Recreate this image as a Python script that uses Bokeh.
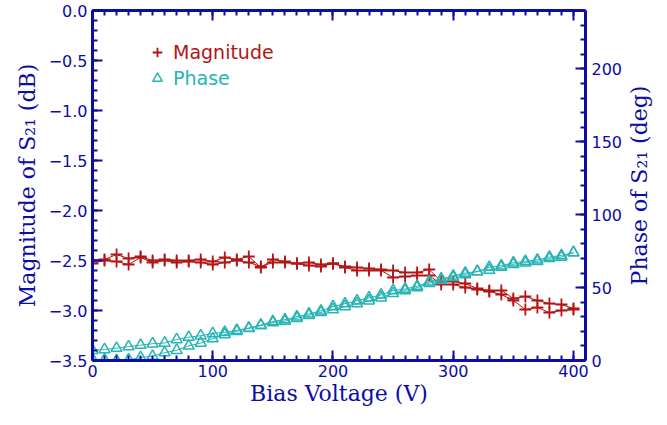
import math
from bokeh.plotting import figure
from bokeh.layouts import row
from bokeh.models import (Range1d, LinearAxis, SingleIntervalTicker, FixedTicker, CustomJSTickFormatter,
                          Legend, LegendItem, ColumnDataSource)
from bokeh.embed import file_html
from bokeh.resources import INLINE

volts = [0, 10, 20, 30, 40, 50, 60, 70, 80, 90, 100, 110, 120, 130, 140, 150, 160, 170, 180, 190,
         200, 210, 220, 230, 240, 250, 260, 270, 280, 290, 300, 310, 320, 330, 340, 350, 360, 370,
         380, 390, 400]
mag_up = [-2.50, -2.49, -2.44, -2.48, -2.46, -2.50, -2.49, -2.50, -2.50, -2.49, -2.51, -2.47, -2.49,
          -2.46, -2.57, -2.49, -2.51, -2.53, -2.52, -2.54, -2.53, -2.56, -2.57, -2.58, -2.59, -2.60,
          -2.62, -2.62, -2.59, -2.71, -2.71, -2.73, -2.78, -2.80, -2.80, -2.88, -2.86, -2.90, -2.93,
          -2.94, -2.98]
mag_down = [-2.53, -2.50, -2.51, -2.54, -2.47, -2.52, -2.50, -2.52, -2.51, -2.52, -2.54, -2.52, -2.50,
            -2.52, -2.56, -2.52, -2.52, -2.53, -2.55, -2.56, -2.53, -2.57, -2.60, -2.60, -2.60, -2.67,
            -2.66, -2.65, -2.65, -2.74, -2.74, -2.77, -2.79, -2.81, -2.84, -2.90, -2.99, -2.97, -3.02,
            -3.00, -2.99]
phase_up = [7, 7.5, 8.5, 9.5, 10.5, 11.5, 12, 14.4, 16, 17, 18.5, 19.4, 20.7, 22.3, 24.3, 26.8, 28, 30,
            32, 34, 37, 39, 41, 43, 45, 48, 49, 51, 54, 56, 58, 60, 61, 64, 65, 67, 68, 69, 71, 72, 74]
phase_down = [1, 0.5, 0, 0.5, 2, 3, 5.4, 7, 10, 12, 15, 17.8, 20, 22, 24, 26, 27, 29, 31, 33, 35, 37,
              39, 41, 43, 46, 48, 50, 53, 55, 57, 59, 61, 62, 64, 66, 67, 68, 70, 71, 74]

x_title = "Bias Voltage (V)"
y_title = "Magnitude of S\u2082\u2081 (dB)"
y2_title = "Phase of S\u2082\u2081 (deg)"
mag_label = "Magnitude"
phase_label = "Phase"

AXIS = "#0c0ca6"
RED = "#b41414"
TEAL = "#26b4b4"
TITLE_FONT = "DejaVu Serif"
TITLE_SIZE = "22px"
TOP = 10
BOTTOM = 49

p = figure(width=625, height=409, output_backend="svg", toolbar_location=None,
           x_range=Range1d(0, 410), y_range=Range1d(-3.5, 0),
           min_border_left=92, min_border_right=0, min_border_top=TOP, min_border_bottom=0)
p.extra_y_ranges = {"phase": Range1d(0, 240)}
p.grid.visible = False
p.outline_line_color = None
p.background_fill_color = "white"
p.border_fill_color = "white"

def style(ax):
    ax.axis_line_color = AXIS
    ax.axis_line_width = 3
    ax.major_tick_line_color = AXIS
    ax.minor_tick_line_color = AXIS
    ax.major_tick_line_width = 2
    ax.minor_tick_line_width = 2
    ax.major_tick_in = 10
    ax.major_tick_out = 0
    ax.minor_tick_in = 5
    ax.minor_tick_out = 0
    ax.major_label_text_color = AXIS
    ax.major_label_text_font = "DejaVu Sans"
    ax.major_label_text_font_size = "16px"
    ax.major_label_standoff = 5
    ax.axis_label_text_color = AXIS
    ax.axis_label_text_font = TITLE_FONT
    ax.axis_label_text_font_size = TITLE_SIZE
    ax.axis_label_text_font_style = "normal"

xax = p.xaxis[0]
xax.ticker = SingleIntervalTicker(interval=100, num_minor_ticks=10)
xax.axis_label = x_title
style(xax)
xax.major_label_standoff = 4
xax.axis_label_standoff = 1

yax = p.yaxis[0]
yax.ticker = SingleIntervalTicker(interval=0.5, num_minor_ticks=5)
yax.formatter = CustomJSTickFormatter(code="return (tick < -1e-9 ? '\u2212' : '') + Math.abs(tick).toFixed(1);")
yax.axis_label = y_title
style(yax)
yax.axis_label_standoff = 6

top = LinearAxis(ticker=SingleIntervalTicker(interval=100, num_minor_ticks=10),
                 formatter=CustomJSTickFormatter(code="return '';"))
style(top)
p.add_layout(top, "above")

right = LinearAxis(y_range_name="phase", ticker=SingleIntervalTicker(interval=50, num_minor_ticks=5))
style(right)
right.major_label_standoff = 6
p.add_layout(right, "right")

src = ColumnDataSource(dict(v=volts, mu=mag_up, md=mag_down, pu=phase_up, pd=phase_down))

for col in ("mu", "md"):
    p.line("v", col, source=src, line_color=RED, line_width=1)
    r_mag = p.scatter("v", col, source=src, marker="cross", size=12, line_color=RED, line_width=1.8)
for col in ("pu", "pd"):
    p.line("v", col, source=src, line_color=TEAL, line_width=1, y_range_name="phase")
    r_ph = p.scatter("v", col, source=src, marker="triangle", size=11, line_color=TEAL,
                     fill_color=None, line_width=1.5, y_range_name="phase")

def add_legend(label, rend, color, loc):
    lg = Legend(items=[LegendItem(label=label, renderers=[rend])], location=loc,
                label_text_color=color, label_text_font="DejaVu Sans", label_text_font_size="19px",
                background_fill_alpha=0, border_line_alpha=0, glyph_width=24, glyph_height=24,
                label_standoff=4, padding=0, margin=0, spacing=0)
    p.add_layout(lg, "center")

add_legend(mag_label, r_mag, RED, (53, 296))
add_legend(phase_label, r_ph, TEAL, (53, 270))

# narrow companion figure carrying the right-hand title (reads bottom-to-top)
q = figure(width=26, height=409, output_backend="svg", toolbar_location=None,
           x_range=Range1d(0, 1), y_range=Range1d(0, 240),
           min_border_left=25, min_border_right=0, min_border_top=TOP, min_border_bottom=BOTTOM)
q.grid.visible = False
q.outline_line_color = None
q.xaxis.visible = False
q.background_fill_color = "white"
q.border_fill_color = "white"
qy = q.yaxis[0]
qy.ticker = FixedTicker(ticks=[])
qy.formatter = CustomJSTickFormatter(code="return '';")
qy.axis_label = y2_title
style(qy)
qy.axis_line_color = None
qy.major_tick_line_color = None
qy.minor_tick_line_color = None
qy.axis_label_standoff = 0

layout = row(p, q, spacing=0)
open("out.html", "w").write(file_html(layout, INLINE))
